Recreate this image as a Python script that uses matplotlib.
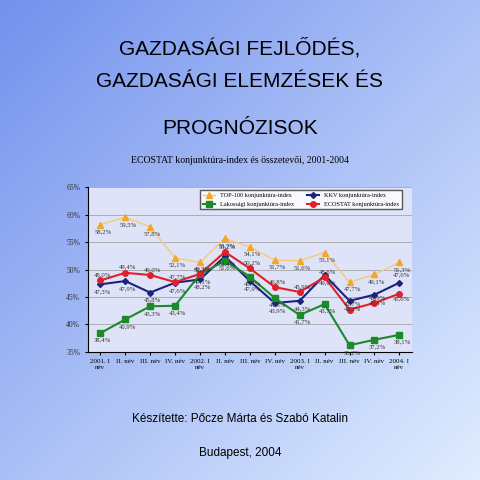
import numpy as np
import matplotlib.pyplot as plt

labels = ["2001. I\nnév", "II. név", "III. név", "IV. név", "2002. I\nnév", "II. név", "III. név",
          "IV. név", "2003. I\nnév", "II. név", "III. név", "IV. név", "2004. I\nnév"]
top100 = [58.2, 59.5, 57.8, 52.1, 51.3, 55.7, 54.1, 51.7, 51.6, 53.1, 47.7, 49.1, 51.3]
kkv = [47.3, 47.9, 45.8, 47.6, 48.2, 52.4, 47.9, 43.9, 44.3, 49.0, 44.3, 45.4, 47.6]
lakossag = [38.4, 40.9, 43.3, 43.4, 49.1, 51.6, 48.7, 44.8, 41.7, 43.7, 36.2, 37.2, 38.1]
ecostat = [48.0, 49.4, 49.0, 47.7, 49.2, 53.2, 50.2, 46.8, 45.9, 48.6, 42.7, 43.9, 45.6]

fig = plt.figure(figsize=(4.8, 4.8), dpi=100)
bg = fig.add_axes([0, 0, 1, 1], zorder=-10)
xx, yy = np.meshgrid(np.linspace(0, 1, 200), np.linspace(0, 1, 200))
t = np.clip((xx + yy) / 2, 0, 1)
c0 = np.array([0.45, 0.57, 0.93])
c1 = np.array([0.88, 0.93, 1.0])
img = c0[None, None, :] * (1 - t[..., None]) + c1[None, None, :] * t[..., None]
bg.imshow(img, extent=[0, 1, 0, 1], origin="upper", aspect="auto")
bg.axis("off")

fig.text(0.5, 0.9, "GAZDASÁGI FEJLŐDÉS,", ha="center", va="center", fontsize=15, family="Liberation Sans")
fig.text(0.5, 0.83, "GAZDASÁGI ELEMZÉSEK ÉS", ha="center", va="center", fontsize=15, family="Liberation Sans")
fig.text(0.5, 0.733, "PROGNÓZISOK", ha="center", va="center", fontsize=15, family="Liberation Sans")
fig.text(0.5, 0.665, "ECOSTAT konjunktúra-index és összetevői, 2001-2004", ha="center", va="center",
         fontsize=7, family="Liberation Serif")
fig.text(0.5, 0.12, "Készítette: Pőcze Márta és Szabó Katalin", ha="center", fontsize=8.5, family="Liberation Sans")
fig.text(0.5, 0.05, "Budapest, 2004", ha="center", fontsize=8.5, family="Liberation Sans")

ax = fig.add_axes([0.183, 0.267, 0.675, 0.343])
ax.set_facecolor("#dfe3f7")
x = np.arange(len(labels))
h1, = ax.plot(x, top100, color="#f8c87a", lw=1, marker="^", ms=5, mfc="#f5a623", mec="#f5a623", label="TOP-100 konjunktúra-index")
h2, = ax.plot(x, kkv, color="#1a237e", lw=1.5, marker="D", ms=3, label="KKV konjunktúra-index")
h3, = ax.plot(x, lakossag, color="#1b8a2b", lw=1.5, marker="s", ms=5, label="Lakossági konjunktúra-index")
h4, = ax.plot(x, ecostat, color="#e0202a", lw=1.5, marker="o", ms=4, label="ECOSTAT konjunktúra-index")
for name, s, dy in [("top", top100, -1.3), ("kkv", kkv, -1.4), ("lak", lakossag, -1.3), ("eco", ecostat, 1.0)]:
    for i, v in enumerate(s):
        d = dy
        if i == len(s) - 1 and name in ("kkv", "eco"):
            d = -dy
        ax.text(i + 0.1, v + d, f"{v:.1f}%".replace(".", ","), ha="center", va="center",
                fontsize=4.8, color="#333333", family="Liberation Serif")
ax.set_ylim(35, 65)
ax.set_xlim(-0.5, 12.5)
ax.set_yticks(range(35, 66, 5))
ax.set_yticklabels([f"{v}%" for v in range(35, 66, 5)], fontsize=5.5, family="Liberation Serif", color="#333333")
ax.set_xticks(x)
ax.set_xticklabels(labels, fontsize=5, family="Liberation Serif")
ax.grid(axis="y", color="#999999", lw=0.5)
ax.tick_params(length=2)
for sp in ["top", "right"]:
    ax.spines[sp].set_visible(False)
ax.legend([h1, h3, h2, h4], [h.get_label() for h in [h1, h3, h2, h4]], loc="upper right", ncol=2,
          prop={"family": "Liberation Serif", "size": 4.5},
          frameon=True, edgecolor="#333333", fancybox=False, bbox_to_anchor=(0.98, 1.0))
fig.savefig("out.png", dpi=100)
